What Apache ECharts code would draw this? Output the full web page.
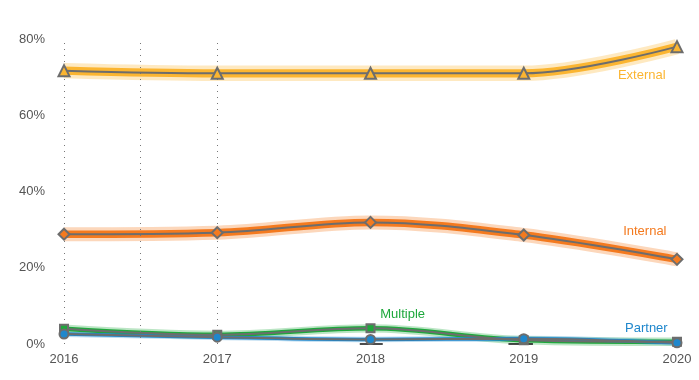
<!DOCTYPE html>
<html>
<head>
<meta charset="utf-8">
<script src="https://cdn.jsdelivr.net/npm/echarts@6/dist/echarts.min.js"></script>
<style>
html,body{margin:0;padding:0;background:#fff;}
#chart{width:699px;height:380px;}
</style>
</head>
<body>
<div id="chart"></div>
<script>
// ---- data ----
var years = [2016, 2017, 2018, 2019, 2020];
var yTicks = [0, 20, 40, 60, 80];
var external = [71.7, 71.0, 71.0, 71.0, 78.0];
var internal = [28.8, 29.2, 31.9, 28.6, 22.2];
var multiple = [4.0, 2.4, 4.1, 1.0, 0.6];
var partner  = [2.6, 1.8, 1.2, 1.4, 0.3];
var seriesNames = ['External', 'Internal', 'Multiple', 'Partner'];
var zeroBars = [[2017.93, 2018.08], [2018.90, 2019.06], [2019.91, 2020.01]];
var gridYears = [2016, 2016.5, 2017];

// ---- styles ----
var colors = {External:'#fbb531', Internal:'#f47a1f', Multiple:'#1ea83c', Partner:'#1f87cc'};
var symbols = {External:'triangle', Internal:'diamond', Multiple:'rect', Partner:'circle'};
var symSizes = {External:11, Internal:11, Multiple:8, Partner:9};
var bandW = {External:11, Internal:10, Multiple:6, Partner:4};
var labelPos = {External:[2019.77, 70.4], Internal:[2019.79, 29.5], Multiple:[2018.21, 7.8], Partner:[2019.80, 4.1]};
var gray = '#6d6d6d';
var font = 'Liberation Sans';

var values = {External:external, Internal:internal, Multiple:multiple, Partner:partner};
function pairs(arr){ return years.map(function(y,i){ return [y, arr[i]]; }); }

var series = [];
seriesNames.forEach(function(name){
  var d = pairs(values[name]);
  // wide translucent band
  series.push({type:'line', data:d, smooth:0.35, symbol:'none', silent:true, z:1,
    lineStyle:{color:colors[name], width:bandW[name]*1.4, opacity:0.3}});
  // inner band
  series.push({type:'line', data:d, smooth:0.35, symbol:'none', silent:true, z:2,
    lineStyle:{color:colors[name], width:Math.max(3.5, bandW[name]*0.75), opacity:1}});
});
seriesNames.forEach(function(name){
  var d = pairs(values[name]);
  series.push({type:'line', name:name, data:d, smooth:0.35, z:5,
    symbol:symbols[name], symbolSize:symSizes[name], showAllSymbol:true,
    lineStyle:{color:gray, width:2},
    itemStyle:{color:colors[name], borderColor:gray, borderWidth:2},
    markPoint:{symbol:'circle', symbolSize:0, silent:true,
      data:[{coord:labelPos[name], value:name}],
      label:{show:true, position:'inside', formatter:name, color:colors[name],
        fontFamily:font, fontSize:13}}
  });
});
// dotted grid lines and zero bars
series.push({type:'line', data:[], silent:true, z:0,
  markLine:{symbol:'none', silent:true, label:{show:false},
    lineStyle:{color:'#777', type:[1,5], width:1},
    data: gridYears.map(function(x){ return {xAxis:x}; })}
});
series.push({type:'line', data:[], silent:true, z:0,
  markLine:{symbol:'none', silent:true, label:{show:false},
    lineStyle:{color:'#111', type:'solid', width:1.5},
    data: zeroBars.map(function(b){ return [{coord:[b[0],0]},{coord:[b[1],0]}]; })}
});

var chart = echarts.init(document.getElementById('chart'));
chart.setOption({
  animation:false,
  backgroundColor:'#fff',
  grid:{left:64, right:22, top:39, bottom:36},
  xAxis:{type:'value', min:2016, max:2020, interval:1,
    axisLine:{show:false}, axisTick:{show:false}, splitLine:{show:false},
    axisLabel:{color:'#555', fontFamily:font, fontSize:13, margin:9,
      formatter:function(v){ return String(v); }}},
  yAxis:{type:'value', min:yTicks[0], max:yTicks[yTicks.length-1], interval:20,
    axisLine:{show:false}, axisTick:{show:false}, splitLine:{show:false},
    axisLabel:{color:'#555', fontFamily:font, fontSize:13, margin:19,
      formatter:function(v){ return v + '%'; }}},
  series:series
});
</script>
</body>
</html>
